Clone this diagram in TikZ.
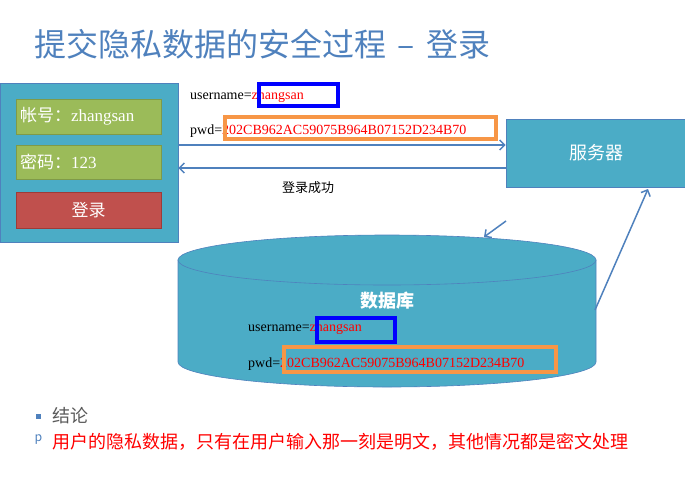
\documentclass[tikz,border=0pt]{standalone}
\usepackage{fontspec}
\setmainfont{Liberation Serif}
\newfontfamily\cjk{Noto Sans CJK SC}
\usetikzlibrary{arrows.meta}
\definecolor{panel}{HTML}{4BACC6}
\definecolor{edge}{HTML}{4F81BD}
\definecolor{field}{HTML}{9BBB59}
\definecolor{fieldedge}{HTML}{7F9A48}
\definecolor{btn}{HTML}{C0504D}
\definecolor{btnedge}{HTML}{9E3B38}
\definecolor{hlblue}{HTML}{0000FF}
\definecolor{hlorange}{HTML}{F79646}
\definecolor{titleblue}{HTML}{4F81BD}
\definecolor{graytext}{HTML}{595959}
\newcommand{\fs}[1]{\fontsize{#1}{#1}\selectfont}
\tikzset{
  panelbox/.style={draw=edge, fill=panel, line width=0.6pt, inner sep=0pt},
  fieldbox/.style={draw=fieldedge, fill=field, line width=0.6pt, minimum width=145pt,
    text width=137pt, inner xsep=4pt, inner ysep=0pt, align=left, text=white, font=\fs{17}},
  btnbox/.style={draw=btnedge, fill=btn, line width=0.6pt, minimum width=145pt,
    minimum height=36pt, inner sep=0pt, text=white, font=\cjk\fs{17}},
  flow/.style={draw=edge, line width=1.5pt, -{Straight Barb[length=5pt,width=10pt]}},
  plain/.style={inner sep=0pt, anchor=west, font=\fs{14}},
  hlb/.style={draw=hlblue, line width=3.5pt},
  hlo/.style={draw=hlorange, line width=3.5pt},
}
\begin{document}
\begin{tikzpicture}[x=1pt, y=-1pt]
\useasboundingbox (0,0) rectangle (685,477);

% title
\node[anchor=west, inner sep=0pt, text=titleblue, font=\cjk\fs{32}] (title) at (34,44)
  {提交隐私数据的安全过程\hspace{11pt}–\hspace{12pt}登录};

% login form
\node[panelbox, minimum width=178pt, minimum height=159pt] (form) at (89,162.5) {};
\node[fieldbox, minimum height=35pt] (user) at (88.5,116.5) {{\cjk 帐号：}zhangsan};
\node[fieldbox, minimum height=34pt] (pass) at (88.5,162) {{\cjk 密码：}123};
\node[btnbox] (login) at (88.5,210) {登录};

% server
\node[panelbox, minimum width=180pt, minimum height=68pt, text=white, font=\cjk\fs{18}] (server) at (596,153) {服务器};

% request / response arrows
\coordinate (reqy) at (0,145);
\coordinate (resy) at (0,168);
\draw[flow] (form.east |- reqy) -- (server.west |- reqy);
\draw[flow] (server.west |- resy) -- (form.east |- resy);
\node[inner sep=0pt, font=\cjk\fs{13}] (ok) at (308,188) {登录成功};

% transmitted fields
\node[plain] (tuser) at (190,96) {username=\textcolor{red}{zhangsan}};
\node[plain] (tpwd) at (190,131) {pwd=\textcolor{red}{202CB962AC59075B964B07152D234B70}};
\draw[hlb] (259,84) rectangle (338,106);
\draw[hlo] (225,117) rectangle (496,139);

% database cylinder
\filldraw[fill=panel, draw=edge, line width=0.6pt]
  (178,260) -- (178,362) arc[start angle=180, end angle=0, x radius=209, y radius=25] -- (596,260) -- cycle;
\filldraw[fill=panel, draw=edge, line width=0.6pt] (387,260) ellipse [x radius=209, y radius=25];
\node[inner sep=0pt, text=white, font=\cjk\bfseries\fs{18}] (db) at (387,301) {数据库};

% stored fields
\node[plain] (duser) at (248,328) {username=\textcolor{red}{zhangsan}};
\node[plain] (dpwd) at (248,364) {pwd=\textcolor{red}{202CB962AC59075B964B07152D234B70}};
\draw[hlb] (317,318) rectangle (395,342);
\draw[hlo] (284,347) rectangle (556,372);

% server <-> database arrows
\coordinate (q1) at (506,221);
\coordinate (q2) at (484,237);
\coordinate (r1) at (595,310);
\coordinate (r2) at (648,189);
\draw[flow] (q1) -- (q2);
\draw[flow] (r1) -- (r2);

% conclusion
\node[fill=edge, minimum size=5pt, inner sep=0pt] (b1) at (38.5,416.5) {};
\node[anchor=west, inner sep=0pt, text=graytext, font=\cjk\fs{18}] (concl) at (52,416) {结论};
\node[inner sep=0pt, text=edge, font=\sffamily\fs{15}] (b2) at (38.5,440) {p};
\node[anchor=west, inner sep=0pt, text=red, font=\cjk\fs{18}] (summary) at (52,442) {用户的隐私数据，只有在用户输入那一刻是明文，其他情况都是密文处理};
\end{tikzpicture}
\end{document}
